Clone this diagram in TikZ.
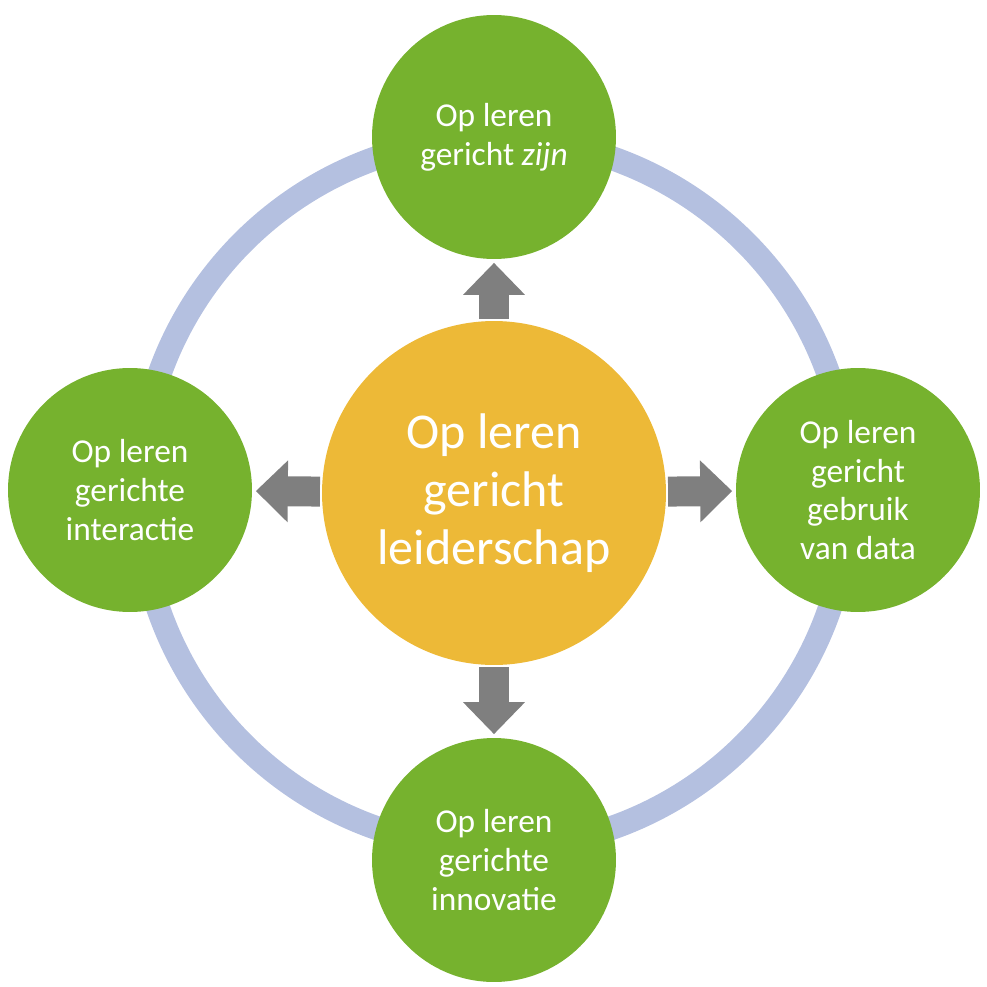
\documentclass[tikz,border=0pt]{standalone}
\usepackage{fontspec}
\setmainfont{Carlito}
\usetikzlibrary{arrows.meta,positioning}
\definecolor{ringblue}{HTML}{B4C0E0}
\definecolor{leafgreen}{HTML}{76B22E}
\definecolor{coreorange}{HTML}{EDB937}
\definecolor{arrowgray}{HTML}{7F7F7F}
\begin{document}
\begin{tikzpicture}[
      x=0.02cm,y=-0.02cm,
      leaf/.style={
         circle,
         fill=leafgreen,
         text=white,
         align=center,
         inner sep=0pt,
         minimum size=4.88cm,
         font=\fontsize{19}{22}\selectfont},
      core/.style={
         circle,
         fill=coreorange,
         text=white,
         align=center,
         inner sep=0pt,
         minimum size=6.88cm,
         font=\fontsize{28.5}{33}\selectfont},
      blockarrow/.style={
         draw=arrowgray,
         line width=0.6cm,
         shorten <=1pt,
         shorten >=2pt,
         -{Triangle[width=1.2cm,length=0.64cm]}}
      ]
      \useasboundingbox (0,0) rectangle (987,987);
      \draw[ringblue,line width=0.48cm] (494,493) circle (7.1cm);

      \node[core] (lead) at (494,493) {Op leren\\gericht\\leiderschap};
      \node[leaf] (top) at (494,137) {Op leren\\gericht \textit{zijn}};
      \node[leaf] (left) at (130,490) {Op leren\\gerichte\\interactie};
      \node[leaf] (right) at (858,490) {Op leren\\gericht\\gebruik\\van data};
      \node[leaf] (bottom) at (494,860) {Op leren\\gerichte\\innovatie};

    \foreach \t in {top,left,right,bottom}
       \draw [blockarrow] (lead) -- (\t);

    \end{tikzpicture}
\end{document}
